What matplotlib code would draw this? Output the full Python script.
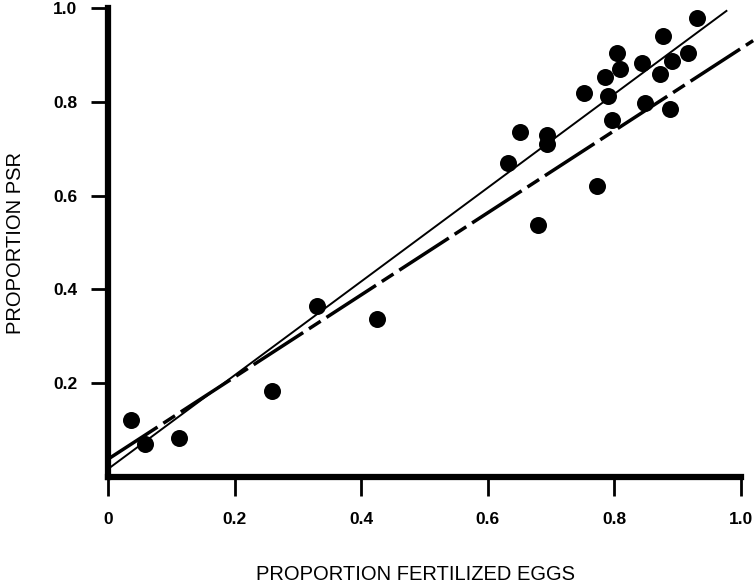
import matplotlib
matplotlib.use("Agg")
import matplotlib.pyplot as plt
import numpy as np

# Observations: proportion of fertilized eggs vs proportion PSR
fertilized = [0.036, 0.058, 0.112, 0.259, 0.330, 0.425, 0.632, 0.651, 0.680,
              0.694, 0.694, 0.753, 0.773, 0.786, 0.791, 0.797, 0.805, 0.809,
              0.844, 0.849, 0.873, 0.877, 0.889, 0.892, 0.917, 0.931]
psr = [0.122, 0.070, 0.083, 0.184, 0.365, 0.337, 0.670, 0.736, 0.538,
       0.730, 0.709, 0.818, 0.621, 0.852, 0.813, 0.762, 0.905, 0.869,
       0.882, 0.798, 0.860, 0.941, 0.785, 0.888, 0.905, 0.978]

# Fitted lines (intercept, slope, x extent)
fit_solid = (0.017, 0.999, 0.979)
fit_dashed = (0.038, 0.875, 1.02)

x_ticks = [0, 0.2, 0.4, 0.6, 0.8, 1.0]
x_tick_labels = ["0", "0.2", "0.4", "0.6", "0.8", "1.0"]
y_ticks = [0.2, 0.4, 0.6, 0.8, 1.0]
y_tick_labels = ["0.2", "0.4", "0.6", "0.8", "1.0"]

plt.rcParams["font.family"] = ["Liberation Sans", "DejaVu Sans"]

W, H = 756, 587
fig = plt.figure(figsize=(W / 100, H / 100), dpi=100)
ax = fig.add_axes([108 / W, 1 - 477 / H, (740.5 - 108) / W, (477 - 8) / H])

ax.set_xlim(0, 1.0)
ax.set_ylim(0, 1.0)

ax.scatter(fertilized, psr, s=150, color="black", zorder=3, linewidths=0)

xs = np.array([0.0, fit_solid[2]])
ax.plot(xs, fit_solid[0] + fit_solid[1] * xs, color="black", lw=1.4,
        solid_capstyle="butt", clip_on=False)
xd = np.array([0.0, fit_dashed[2]])
ax.plot(xd, fit_dashed[0] + fit_dashed[1] * xd, color="black", lw=2.5,
        linestyle=(0, (17, 2, 4, 2)), dash_capstyle="butt", clip_on=False)

for side in ("top", "right"):
    ax.spines[side].set_visible(False)
for side in ("left", "bottom"):
    ax.spines[side].set_linewidth(4.5)
    ax.spines[side].set_capstyle("projecting")

ax.set_xticks(x_ticks)
ax.set_xticklabels(x_tick_labels, fontsize=12.5, fontweight="bold")
ax.set_yticks(y_ticks)
ax.set_yticklabels(y_tick_labels, fontsize=12.5, fontweight="bold")
ax.tick_params(axis="x", direction="out", length=14, width=2, pad=11)
ax.tick_params(axis="y", direction="out", length=12, width=2, pad=10)

fig.text(416 / W, 1 - 575 / H, "PROPORTION FERTILIZED EGGS", fontsize=14.5,
         ha="center", va="center")
fig.text(16 / W, 1 - 243 / H, "PROPORTION PSR", fontsize=14.5,
         rotation=90, ha="center", va="center")

fig.savefig("out.png", dpi=100)
